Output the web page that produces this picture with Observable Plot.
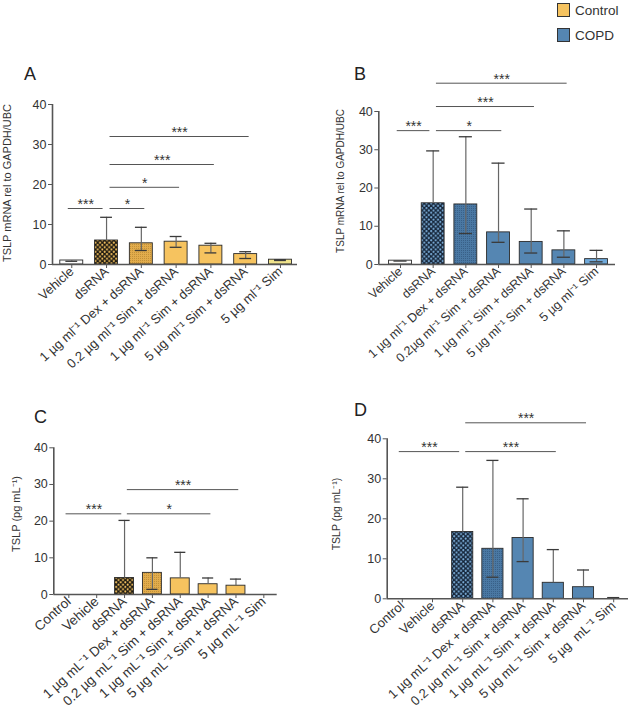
<!DOCTYPE html>
<html><head><meta charset="utf-8">
<script src="https://cdn.jsdelivr.net/npm/d3@7"></script>
<script src="https://cdn.jsdelivr.net/npm/@observablehq/plot@0.6"></script>
<style>
body{margin:0;background:#fff;font-family:"Liberation Sans",Arial,Helvetica,sans-serif;}
#root{position:relative;width:630px;height:710px;overflow:hidden;background:#fff;}
.panel{position:absolute;}
.letter{position:absolute;font-size:18px;line-height:1;color:#222;}
.ylab{position:absolute;white-space:nowrap;line-height:1;color:#333;transform:translate(-50%,-50%) rotate(-90deg);}
.leg{position:absolute;font-size:13.5px;line-height:1;color:#333;}
.sw{position:absolute;width:13px;height:14px;box-sizing:border-box;border:1px solid #333;}
</style></head><body><div id="root"></div>
<script>
// ---------- data ----------
const catsA = ["Vehicle", "dsRNA", "1 µg ml⁻¹ Dex + dsRNA", "0.2 µg ml⁻¹ Sim + dsRNA", "1 µg ml⁻¹ Sim + dsRNA", "5 µg ml⁻¹ Sim + dsRNA", "5 µg ml⁻¹ Sim"];
const valA = [1.0, 6.0, 5.3, 5.7, 4.7, 2.6, 1.2];
const hiA  = [0.8, 11.8, 9.3, 7.0, 5.3, 3.2, 1.2];
const loA  = [null, null, 3.5, 4.3, 2.9, 1.5, 1.0];
const sigA = [
  {from: "Vehicle", to: "dsRNA", y: 14, label: "***"},
  {from: "dsRNA", to: "1 µg ml⁻¹ Dex + dsRNA", y: 14, label: "*"},
  {from: "dsRNA", to: "0.2 µg ml⁻¹ Sim + dsRNA", y: 19.3, label: "*"},
  {from: "dsRNA", to: "1 µg ml⁻¹ Sim + dsRNA", y: 25, label: "***"},
  {from: "dsRNA", to: "5 µg ml⁻¹ Sim + dsRNA", y: 32, label: "***"}
];

const catsB = ["Vehicle", "dsRNA", "1 µg ml⁻¹ Dex + dsRNA", "0.2µg ml⁻¹ Sim + dsRNA", "1 µg ml⁻¹ Sim + dsRNA", "5 µg ml⁻¹ Sim + dsRNA", "5 µg ml⁻¹ Sim"];
const valB = [1.0, 16.0, 15.7, 8.4, 5.9, 3.7, 1.4];
const hiB  = [0.9, 29.7, 33.4, 26.5, 14.5, 8.8, 3.7];
const loB  = [null, null, 8.1, 5.8, 3.0, 1.9, 0.7];
const sigB = [
  {from: "Vehicle", to: "dsRNA", y: 35, label: "***"},
  {from: "dsRNA", to: "0.2µg ml⁻¹ Sim + dsRNA", y: 35, label: "*"},
  {from: "dsRNA", to: "1 µg ml⁻¹ Sim + dsRNA", y: 41.3, label: "***"},
  {from: "dsRNA", to: "5 µg ml⁻¹ Sim + dsRNA", y: 47.4, label: "***"}
];

const catsC = ["Control", "Vehicle", "dsRNA", "1 µg mL⁻¹ Dex + dsRNA", "0.2 µg mL⁻¹ Sim + dsRNA", "1 µg mL⁻¹ Sim + dsRNA", "5 µg mL⁻¹ Sim + dsRNA", "5 µg mL⁻¹ Sim"];
const valC = [0, 0, 4.5, 5.9, 4.4, 2.8, 2.4, 0];
const hiC  = [null, null, 20.2, 10.0, 11.5, 4.5, 4.2, null];
const loC  = [null, null, null, 1.4, null, null, null, null];
const sigC = [
  {from: "Control", to: "dsRNA", y: 22, label: "***"},
  {from: "dsRNA", to: "1 µg mL⁻¹ Sim + dsRNA", y: 22, label: "*"},
  {from: "dsRNA", to: "5 µg mL⁻¹ Sim + dsRNA", y: 28.6, label: "***"}
];

const catsD = ["Control", "Vehicle", "dsRNA", "1 µg mL⁻¹ Dex + dsRNA", "0.2 µg mL⁻¹ Sim + dsRNA", "1 µg mL⁻¹ Sim + dsRNA", "5 µg mL⁻¹ Sim + dsRNA", "5 µg  mL⁻¹ Sim"];
const valD = [0, 0, 16.7, 12.5, 15.2, 4.0, 2.9, 0];
const hiD  = [null, null, 27.9, 34.6, 25.0, 12.3, 7.2, 0.3];
const loD  = [null, null, null, 5.4, 9.3, null, null, null];
const sigD = [
  {from: "Control", to: "dsRNA", y: 36.8, label: "***"},
  {from: "dsRNA", to: "1 µg mL⁻¹ Sim + dsRNA", y: 36.8, label: "***"},
  {from: "dsRNA", to: "5 µg mL⁻¹ Sim + dsRNA", y: 44, label: "***"}
];

const yTicks = [0, 10, 20, 30, 40];
const groups = ["Control", "COPD"];

// ---------- styling ----------
const palette = {
  Control: {base: "#F6C35F", light: "#F1E48C", dark: "#1e1a12", dot: "#F6C35F", stip: "#E2AC4C", stipDot: "#A87A2A"},
  COPD:    {base: "#5586B2", light: "#6FA9DA", dark: "#16263a", dot: "#7FB2DE", stip: "#4A78A3", stipDot: "#2B4D70"}
};
const FONT = '"Liberation Sans", Arial, Helvetica, sans-serif';
const root = document.getElementById("root");

function addPatterns(svg, id, pal) {
  const defs = d3.select(svg).insert("defs", ":first-child");
  const s = 4.6;
  const p = defs.append("pattern").attr("id", id + "-chk").attr("patternUnits", "userSpaceOnUse").attr("width", s).attr("height", s);
  p.append("rect").attr("width", s).attr("height", s).attr("fill", pal.dark);
  p.append("circle").attr("cx", s / 4).attr("cy", s / 4).attr("r", 1.05).attr("fill", pal.dot);
  p.append("circle").attr("cx", 3 * s / 4).attr("cy", 3 * s / 4).attr("r", 1.05).attr("fill", pal.dot);
  const q = defs.append("pattern").attr("id", id + "-stp").attr("patternUnits", "userSpaceOnUse").attr("width", 2).attr("height", 2);
  q.append("rect").attr("width", 2).attr("height", 2).attr("fill", pal.stip);
  q.append("rect").attr("width", 1).attr("height", 1).attr("fill", pal.stipDot).attr("opacity", 0.55);
}

function panel(cfg) {
  const {id, cats, val, hi, lo, sig, group, box, m, xDomain, half, cap, tickFont} = cfg;
  const pal = palette[group];
  const rows = cats.map((c, i) => ({i, c, v: val[i], hi: hi[i], lo: lo[i]}));
  const idx = name => cats.indexOf(name);
  const fillFor = d => {
    if (d.c === "Vehicle") return "#fbfbfb";
    if (d.c === "dsRNA") return `url(#${id}-chk)`;
    if (d.c.includes("Dex")) return `url(#${id}-stp)`;
    if (!d.c.includes("dsRNA")) return pal.light;
    return pal.base;
  };
  const bars = rows.filter(d => d.v > 0);
  const whisk = rows.filter(d => d.hi != null);
  const lows = rows.filter(d => d.lo != null);
  const sigRows = sig.map(s => {
    const sh = s.to === "dsRNA" ? -0.1 : 0.1;
    return {...s, x1: idx(s.from) + sh, x2: idx(s.to) + sh};
  });
  const svg = Plot.plot({
    width: box.w, height: box.h,
    marginLeft: m.l, marginRight: m.r, marginTop: m.t, marginBottom: m.b,
    x: {type: "linear", domain: xDomain},
    y: {domain: [0, 40]},
    color: {type: "identity"},
    style: {fontFamily: FONT, color: "#333", background: "transparent", overflow: "visible"},
    marks: [
      Plot.rect(bars, {x1: d => d.i - half, x2: d => d.i + half, y1: d => 0, y2: "v", fill: fillFor, stroke: "#2a2a2a", strokeWidth: 0.9}),
      Plot.ruleX(whisk, {x: "i", y1: d => d.lo != null ? d.lo : d.v, y2: "hi", stroke: "#666", strokeWidth: 1.2}),
      Plot.ruleY(whisk, {y: "hi", x1: d => d.i - cap, x2: d => d.i + cap, stroke: "#3a3a3a", strokeWidth: 1.3}),
      Plot.ruleY(lows, {y: "lo", x1: d => d.i - cap, x2: d => d.i + cap, stroke: "#3a3a3a", strokeWidth: 1.3}),
      Plot.ruleY(sigRows, {y: "y", x1: "x1", x2: "x2", stroke: "#555", strokeWidth: 1}),
      Plot.text(sigRows, {x: d => (d.x1 + d.x2) / 2, y: "y", text: "label", dy: -4, fontSize: 14, fill: "#333"}),
      Plot.ruleY([0], {stroke: "#555", strokeWidth: 1.6}),
      Plot.ruleX([xDomain[0]], {y1: 0, y2: 40, stroke: "#555", strokeWidth: 1.6}),
      Plot.axisY({ticks: yTicks, tickSize: 4, tickPadding: 2, fontSize: 12.5, label: null, stroke: "#555"}),
      Plot.axisX({ticks: d3.range(cats.length), tickFormat: i => cats[i], tickRotate: -42, tickSize: 4, tickPadding: 1, fontSize: tickFont, label: null, stroke: "#555"})
    ]
  });
  addPatterns(svg, id, pal);
  svg.classList.add("panel");
  svg.style.left = box.x + "px";
  svg.style.top = box.y + "px";
  root.appendChild(svg);
}

panel({id: "pA", cats: catsA, val: valA, hi: hiA, lo: loA, sig: sigA, group: groups[0], tickFont: 13,
  box: {x: 0, y: 0, w: 315, h: 365}, m: {l: 52, r: 18, t: 104, b: 101}, xDomain: [-0.554, 6.49], half: 0.33, cap: 0.17});
panel({id: "pB", cats: catsB, val: valB, hi: hiB, lo: loB, sig: sigB, group: groups[1], tickFont: 12.5,
  box: {x: 315, y: 0, w: 315, h: 365}, m: {l: 63.3, r: 15, t: 111, b: 101}, xDomain: [-0.664, 6.58], half: 0.35, cap: 0.2});
panel({id: "pC", cats: catsC, val: valC, hi: hiC, lo: loC, sig: sigC, group: groups[0], tickFont: 13.5,
  box: {x: 0, y: 365, w: 315, h: 345}, m: {l: 53.3, r: 38.3, t: 82.3, b: 116}, xDomain: [-0.54, 7.48], half: 0.34, cap: 0.2});
panel({id: "pD", cats: catsD, val: valD, hi: hiD, lo: loD, sig: sigD, group: groups[1], tickFont: 13,
  box: {x: 315, y: 365, w: 315, h: 345}, m: {l: 71.7, r: 2, t: 73.3, b: 111.7}, xDomain: [-0.5, 7.49], half: 0.35, cap: 0.2});

// panel letters, y labels, legend (HTML text)
function addText(cls, txt, x, y, extra) {
  const d = document.createElement("div");
  d.className = cls; d.textContent = txt;
  d.style.left = x + "px"; d.style.top = y + "px";
  Object.assign(d.style, extra || {});
  root.appendChild(d);
}
addText("letter", "A", 24, 64.5);
addText("letter", "B", 354, 64.5);
addText("letter", "C", 34, 407.5);
addText("letter", "D", 354, 400.5);
addText("ylab", "TSLP mRNA rel to GAPDH/UBC", 7, 183, {fontSize: "11px"});
addText("ylab", "TSLP mRNA rel to GAPDH/UBC", 341, 181, {fontSize: "10px"});
addText("ylab", "TSLP (pg mL⁻¹)", 16, 514, {fontSize: "11px"});
addText("ylab", "TSLP (pg mL⁻¹)", 336, 514, {fontSize: "10.5px"});

groups.forEach((g, k) => {
  const sw = document.createElement("div");
  sw.className = "sw";
  sw.style.left = "557px"; sw.style.top = (3 + k * 25) + "px";
  sw.style.background = palette[g].base;
  root.appendChild(sw);
  addText("leg", g, 575, 3.5 + k * 25);
});
</script></body></html>
